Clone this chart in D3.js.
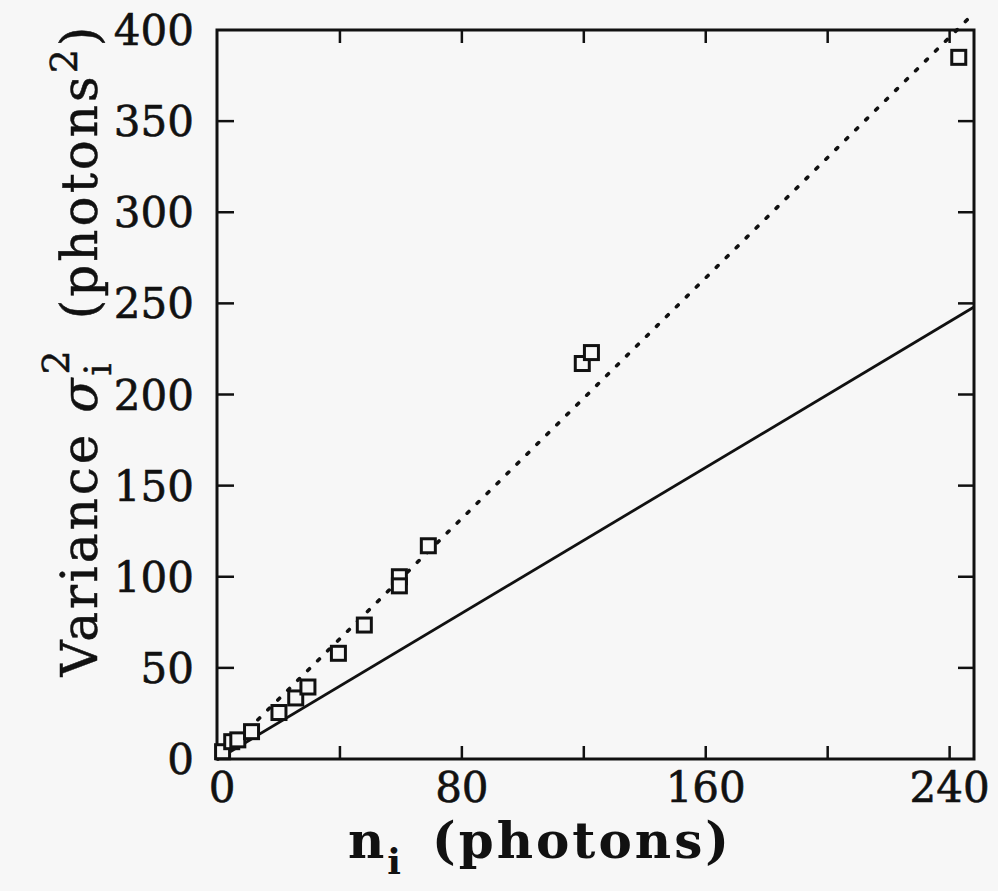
<!DOCTYPE html>
<html>
<head>
<meta charset="utf-8">
<script src="https://cdn.jsdelivr.net/npm/d3@7"></script>
<style>
  html, body { margin: 0; padding: 0; background: #f7f7f7; }
  svg { display: block; }
  text { font-family: "DejaVu Serif", "Liberation Serif", serif; fill: #111; }
</style>
</head>
<body>
<div id="chart"></div>
<script>
// measured points (photon count vs variance)
const countVals = [1.5, 4.5, 6.5, 11, 20, 25.5, 29.5, 39.5, 48, 59.5, 59.5, 69, 119.5, 122.5, 243];
const varianceVals = [4, 9.5, 10.5, 15, 25.5, 33.5, 39.5, 58, 73.5, 100, 95, 117, 217, 223, 385];
// reference lines: poisson (slope 1) and fit (dotted)
const poissonLine = [[0, 0], [248, 248]];
const fitLine = [[0, 0], [246, 406]];
const xTickVals = [0, 40, 80, 120, 160, 200, 240];
const xLabelVals = [0, 80, 160, 240];
const yTickVals = [0, 50, 100, 150, 200, 250, 300, 350, 400];

const W = 998, H = 891;
const margin = {left: 218, right: 24, top: 30, bottom: 132};

const svg = d3.select("#chart").append("svg").attr("width", W).attr("height", H);

const x = d3.scaleLinear().domain([0, 248]).range([margin.left, W - margin.right]);
const y = d3.scaleLinear().domain([0, 400]).range([H - margin.bottom, margin.top]);

const ink = "#111";
const tickLen = 13;

// frame
svg.append("rect")
  .attr("x", x(0) - 1).attr("y", y(400))
  .attr("width", x(248) - x(0) + 1).attr("height", y(0) - y(400))
  .attr("fill", "none").attr("stroke", ink).attr("stroke-width", 3);

// inward ticks
xTickVals.forEach(function(v){
  if(v === 0) return;
  svg.append("line").attr("x1", x(v)).attr("x2", x(v))
    .attr("y1", y(0)).attr("y2", y(0) - tickLen)
    .attr("stroke", ink).attr("stroke-width", 2.5);
  svg.append("line").attr("x1", x(v)).attr("x2", x(v))
    .attr("y1", y(400)).attr("y2", y(400) + tickLen)
    .attr("stroke", ink).attr("stroke-width", 2.5);
});
yTickVals.forEach(function(v){
  if(v === 0 || v === 400) return;
  svg.append("line").attr("x1", x(0)).attr("x2", x(0) + 16)
    .attr("y1", y(v)).attr("y2", y(v))
    .attr("stroke", ink).attr("stroke-width", 2.5);
  svg.append("line").attr("x1", x(248)).attr("x2", x(248) - 16)
    .attr("y1", y(v)).attr("y2", y(v))
    .attr("stroke", ink).attr("stroke-width", 2.5);
});

// tick labels
svg.selectAll("text.xl").data(xLabelVals).enter().append("text")
  .attr("class", "xl")
  .attr("x", function(d){ return x(d) + (d === 0 ? 4 : 0); })
  .attr("y", y(0) + 43)
  .attr("text-anchor", "middle")
  .style("font-size", "42px")
  .style("stroke", ink).style("stroke-width", 0.6)
  .text(function(d){ return d; });

svg.selectAll("text.yl").data(yTickVals).enter().append("text")
  .attr("class", "yl")
  .attr("x", x(0) - 24)
  .attr("y", function(d){ return y(d) + 15; })
  .attr("text-anchor", "end")
  .style("font-size", "42px")
  .style("stroke", ink).style("stroke-width", 0.6)
  .text(function(d){ return d; });

// lines
const line = d3.line().x(function(d){ return x(d[0]); }).y(function(d){ return y(d[1]); });
svg.append("path").attr("d", line(poissonLine))
  .attr("fill", "none").attr("stroke", ink).attr("stroke-width", 2.8);
svg.append("path").attr("d", line(fitLine))
  .attr("fill", "none").attr("stroke", ink).attr("stroke-width", 3.6)
  .attr("stroke-linecap", "round").attr("stroke-dasharray", "2.5 11.5");

// squares
const sq = 14;
svg.selectAll("rect.pt").data(countVals).enter().append("rect")
  .attr("class", "pt")
  .attr("x", function(d){ return x(d) - sq/2; })
  .attr("y", function(d, i){ return y(varianceVals[i]) - sq/2; })
  .attr("width", sq).attr("height", sq)
  .attr("fill", "#f7f7f7").attr("stroke", ink).attr("stroke-width", 3);

// x title
const xt = svg.append("text").attr("x", 540).attr("y", 858)
  .attr("text-anchor", "middle").style("font-size", "50px").style("font-weight", "bold")
  .style("letter-spacing", "3px");
xt.append("tspan").text("n");
xt.append("tspan").attr("dy", 16).style("font-size", "36px").text("i");
xt.append("tspan").attr("dy", -16).text("\u2002(photons)");

// y title
const yt = svg.append("text")
  .attr("transform", "translate(97," + 350 + ") rotate(-90)")
  .attr("text-anchor", "middle").style("font-size", "50px")
  .style("letter-spacing", "3px")
  .style("stroke", ink).style("stroke-width", 0.5);
yt.append("tspan").text("Variance ");
yt.append("tspan").style("font-style", "italic").text("\u03c3");
yt.append("tspan").attr("dy", 14).style("font-size", "38px").text("i");
yt.append("tspan").attr("dx", -14).attr("dy", -42).style("font-size", "38px").text("2");
yt.append("tspan").attr("dy", 28).text("\u2002(photons");
yt.append("tspan").attr("dy", -20).style("font-size", "38px").text("2");
yt.append("tspan").attr("dy", 20).text(")");
</script>
</body>
</html>
